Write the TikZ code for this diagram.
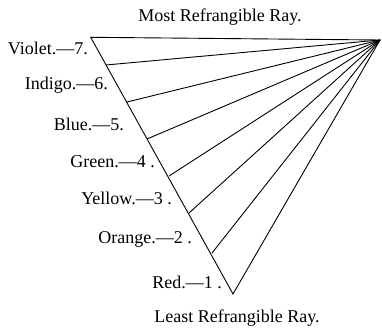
\documentclass[tikz,border=0pt]{standalone}
\usepackage{fontspec}
\setmainfont{Liberation Serif}
\begin{document}
\begin{tikzpicture}[x=1pt,y=-1pt,
  ray/.style={line width=0.9pt},
  lbl/.style={font=\fontsize{18}{21}\selectfont, inner sep=0pt},
  colorlbl/.style={lbl, anchor=east}]
\useasboundingbox (0,0) rectangle (382,328);
\coordinate (A) at (380,40);
\coordinate (p7) at (90.7,37.3);
\coordinate (p6) at (106,65);
\coordinate (p5) at (127,102);
\coordinate (p4) at (147,139);
\coordinate (p3) at (169,176);
\coordinate (p2) at (189,213);
\coordinate (p1) at (212,253);
\coordinate (p0) at (233,294);
\draw[ray, line join=miter] (A) -- (p7) -- (p0) -- cycle;
\foreach \i in {6,5,4,3,2,1} \draw[ray] (A) -- (p\i);
\node[lbl] (top) at (220,17) {Most Refrangible Ray.};
\node[lbl] (bot) at (237,318) {Least Refrangible Ray.};
\node[colorlbl] (violet) at (88,48) {Violet.—7.};
\node[colorlbl] (indigo) at (108,85) {Indigo.—6.};
\node[colorlbl] (blue) at (124,124) {Blue.—5.};
\node[colorlbl] (green) at (155,162) {Green.—4 .};
\node[colorlbl] (yellow) at (172,198) {Yellow.—3 .};
\node[colorlbl] (orange) at (192,239) {Orange.—2 .};
\node[colorlbl] (red) at (222,282) {Red.—1 .};
\end{tikzpicture}
\end{document}
